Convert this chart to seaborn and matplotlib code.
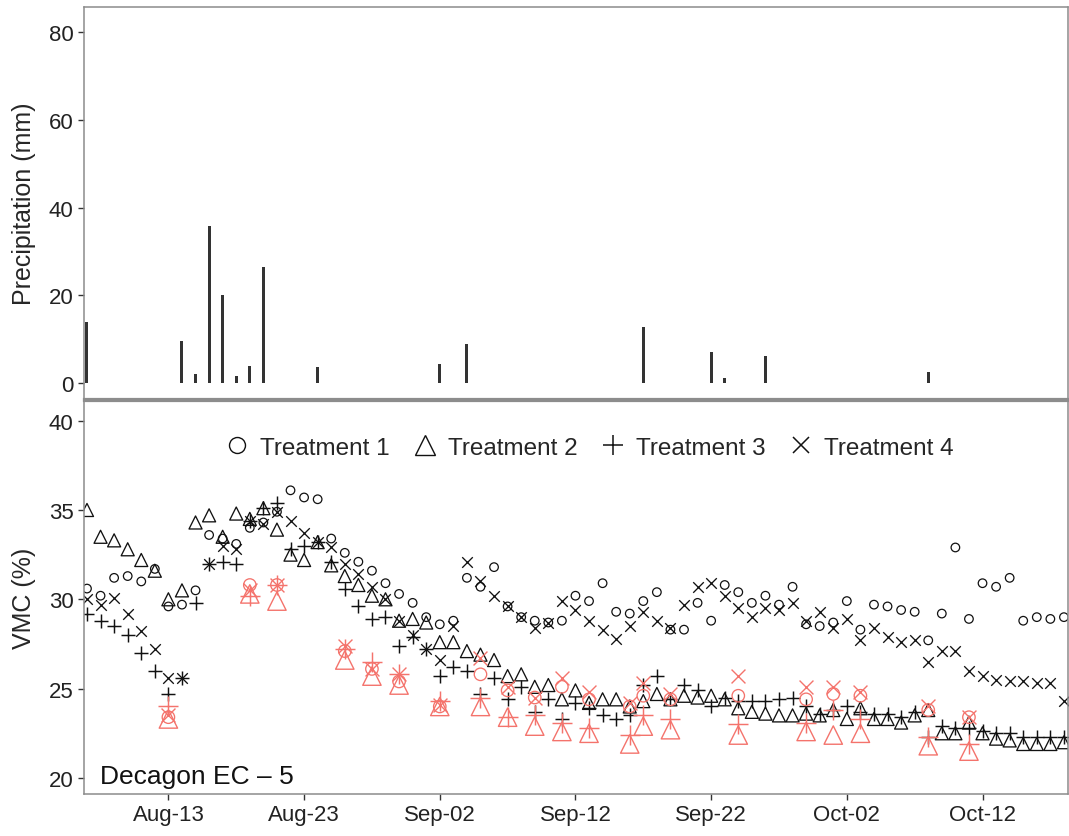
import numpy as np
import pandas as pd
import matplotlib
matplotlib.use("Agg")
import matplotlib.pyplot as plt
import matplotlib.dates as mdates
from matplotlib.lines import Line2D
import seaborn as sns

sns.set_theme(style="white")
plt.rcParams['font.family'] = ['Liberation Sans', 'DejaVu Sans']

# ---------------- data ----------------
start_date = "2016-08-07"
n_days = 73

# daily VMC (%) per treatment (sensor), Aug-07 .. Oct-18
t1 = [30.6, 30.2, 31.2, 31.3, 31.0, 31.7, 29.6, 29.7, 30.5, 33.6,
      33.4, 33.1, 34.0, 34.3, 34.9, 36.1, 35.7, 35.6, 33.4, 32.6,
      32.1, 31.6, 30.9, 30.3, 29.8, 29.0, 28.6, 28.8, 31.2, 30.7,
      31.8, 29.6, 29.0, 28.8, 28.7, 28.8, 30.2, 29.9, 30.9, 29.3,
      29.2, 29.9, 30.4, 28.3, 28.3, 29.8, 28.8, 30.8, 30.4, 29.8,
      30.2, 29.7, 30.7, 28.6, 28.5, 28.7, 29.9, 28.3, 29.7, 29.6,
      29.4, 29.3, 27.7, 29.2, 32.9, 28.9, 30.9, 30.7, 31.2, 28.8,
      29.0, 28.9, 29.0]
t2 = [35.0, 33.5, 33.3, 32.8, 32.2, 31.6, 30.0, 30.5, 34.3, 34.7,
      33.5, 34.8, 34.5, 35.1, 33.9, 32.5, 32.2, 33.2, 31.9, 31.3,
      30.8, 30.2, 30.0, 28.8, 28.9, 28.7, 27.6, 27.6, 27.1, 26.9,
      26.6, 25.7, 25.8, 25.1, 25.2, 24.4, 24.9, 24.2, 24.4, 24.4,
      24.0, 24.3, 24.7, 24.4, 24.6, 24.5, 24.6, 24.4, 23.9, 23.7,
      23.6, 23.5, 23.5, 23.6, 23.5, 23.8, 23.3, 23.9, 23.3, 23.3,
      23.1, 23.5, 23.8, 22.5, 22.5, 23.1, 22.5, 22.2, 22.1, 21.9,
      21.9, 21.9, 22.0]
t3 = [29.2, 28.8, 28.5, 28.0, 27.0, 26.0, 24.7, 25.6, 29.8, 32.0,
      32.1, 32.0, 34.4, 35.1, 35.4, 32.8, 33.0, 33.2, 32.1, 30.6,
      29.6, 28.9, 29.0, 27.4, 27.9, 27.2, 25.7, 26.2, 26.0, 24.7,
      25.6, 24.4, 25.1, 23.7, 24.4, 23.3, 24.2, 23.9, 23.5, 23.3,
      23.5, 25.2, 25.7, 24.4, 25.2, 24.9, 24.0, 24.5, 24.3, 24.3,
      24.3, 24.4, 24.5, 24.0, 23.6, 23.8, 24.0, 23.7, 23.6, 23.6,
      23.4, 23.7, 22.3, 22.9, 22.8, 22.8, 22.6, 22.5, 22.5, 22.3,
      22.3, 22.3, 22.3]
t4 = [30.0, 29.7, 30.1, 29.2, 28.2, 27.2, 25.6, 25.6, np.nan, 32.0,
      33.0, 32.8, 34.4, 34.2, 34.9, 34.4, 33.7, 33.2, 32.9, 32.0,
      31.4, 30.7, 30.0, 28.8, 28.0, 27.2, 26.6, 28.5, 32.1, 31.0,
      30.2, 29.6, 29.0, 28.4, 28.7, 29.9, 29.4, 28.8, 28.3, 27.8,
      28.5, 29.3, 28.8, 28.4, 29.7, 30.7, 30.9, 30.2, 29.5, 29.0,
      29.5, 29.4, 29.8, 28.8, 29.3, 28.4, 28.9, 27.7, 28.4, 27.9,
      27.6, 27.7, 26.5, 27.1, 27.1, 26.0, 25.7, 25.5, 25.4, 25.4,
      25.3, 25.3, 24.3]

# highlighted (red) readings: day offsets from start and values
red_days = [6, 12, 14, 19, 21, 23, 26, 29, 31, 33, 35, 37, 40, 41, 43,
            48, 53, 55, 57, 62, 65]
red_t1 = [23.4, 30.8, 30.8, 27.1, 26.1, 25.4, 24.0, 25.8, 24.9, 24.5, 25.1,
          24.4, 24.0, 24.6, 24.4, 24.6, 24.4, 24.7, 24.6, 23.8, 23.4]
red_t2 = [23.3, 30.3, 29.9, 26.6, 25.7, 25.2, 24.0, 24.0, 23.4, 22.9, 22.6,
          22.5, 21.9, 22.9, 22.7, 22.4, 22.6, 22.4, 22.5, 21.8, 21.5]
red_t3 = [24.0, 30.2, 30.8, 27.2, 26.5, 25.8, 24.3, 24.5, 23.4, 23.5, 23.1,
          22.8, 22.4, 23.5, 23.3, 23.0, 23.1, 23.8, 23.3, 22.3, 21.9]
red_t4 = [23.5, 30.5, 30.8, 27.4, 26.1, 25.8, 24.1, 26.7, 25.1, 24.5, 25.6,
          24.8, 24.2, 25.3, 24.7, 25.7, 25.1, 25.1, 24.8, 24.0, 23.4]

# precipitation (mm)
rain_days = [0, 7, 8, 9, 10, 11, 12, 13, 17, 26, 28, 41, 46, 47, 50, 62]
rain_mm = [13.9, 9.5, 2.0, 35.7, 20.0, 1.6, 3.9, 26.4, 3.6, 4.3, 8.9,
           12.7, 7.0, 1.1, 6.2, 2.5]

treatments = ["Treatment 1", "Treatment 2", "Treatment 3", "Treatment 4"]

# ---------------- frames ----------------
dates = pd.date_range(start_date, periods=n_days, freq="D")
sensor = pd.concat([pd.DataFrame({"date": dates, "vmc": v, "trt": t})
                    for t, v in zip(treatments, [t1, t2, t3, t4])])
red_dates = pd.Timestamp(start_date) + pd.to_timedelta(red_days, unit="D")
red = pd.concat([pd.DataFrame({"date": red_dates, "vmc": v, "trt": t})
                 for t, v in zip(treatments, [red_t1, red_t2, red_t3, red_t4])])
rain_dates = pd.Timestamp(start_date) + pd.to_timedelta(rain_days, unit="D")

# ---------------- figure ----------------
W, H = 1069, 837
fig = plt.figure(figsize=(W / 100, H / 100), dpi=100)
L, R = 84 / W, 1068 / W
ax1 = fig.add_axes([L, 1 - 400 / H, R - L, (400 - 8) / H])
ax2 = fig.add_axes([L, 1 - 795 / H, R - L, (795 - 402) / H], sharex=ax1)

black = "#111111"
redc = "#F4736C"
spine_c = "#8c8c8c"

# precipitation bars
ax1.bar(rain_dates, rain_mm, width=0.22, color="#333333", linewidth=0)
ax1.set_ylim(-3.6, 85.7)
ax1.set_yticks([0, 20, 40, 60, 80])
ax1.set_ylabel("Precipitation (mm)", fontsize=18, labelpad=9)

style_black = {
    "Treatment 1": dict(marker="o", s=38, facecolor="none", linewidth=0.9),
    "Treatment 2": dict(marker="^", s=88, facecolor="none", linewidth=0.95),
    "Treatment 3": dict(marker="+", s=100, linewidth=1.05),
    "Treatment 4": dict(marker="x", s=58, linewidth=0.95),
}
style_red = {
    "Treatment 1": dict(marker="o", s=80, facecolor="none", linewidth=0.95),
    "Treatment 2": dict(marker="^", s=175, facecolor="none", linewidth=1.0),
    "Treatment 3": dict(marker="+", s=190, linewidth=1.05),
    "Treatment 4": dict(marker="x", s=100, linewidth=1.0),
}

for df, col, stl, z in [(sensor, black, style_black, 2), (red, redc, style_red, 3)]:
    for t in treatments:
        sub = df[df["trt"] == t]
        kw = dict(stl[t])
        sns.scatterplot(data=sub, x="date", y="vmc", ax=ax2, color=col,
                        edgecolor=col, legend=False, zorder=z, **kw)

ax2.set_ylim(19.1, 41.1)
ax2.set_yticks([20, 25, 30, 35, 40])
ax2.set_ylabel("VMC (%)", fontsize=18, labelpad=9)
ax2.set_xlabel("")

x0 = pd.Timestamp(start_date)
ax2.set_xlim(x0 - pd.Timedelta(days=0.22), x0 + pd.Timedelta(days=72.3))
ticks = pd.date_range("2016-08-13", periods=7, freq="10D")
ax2.set_xticks(ticks)
ax2.xaxis.set_major_formatter(mdates.DateFormatter("%b-%d"))

for ax in (ax1, ax2):
    for sp in ax.spines.values():
        sp.set_color(spine_c)
        sp.set_linewidth(1.1)
    ax.tick_params(axis="both", which="major", direction="out", length=4,
                   width=1.0, color="#333333", labelsize=16, labelcolor="#222222",
                   bottom=True, left=True)
plt.setp(ax1.get_xticklabels(), visible=False)
ax1.spines["bottom"].set_linewidth(1.6)
ax2.spines["top"].set_linewidth(1.6)

handles = [
    Line2D([], [], linestyle="none", marker="o", markersize=11.5, markerfacecolor="none",
           markeredgecolor=black, markeredgewidth=1.0),
    Line2D([], [], linestyle="none", marker="^", markersize=15, markerfacecolor="none",
           markeredgecolor=black, markeredgewidth=1.0),
    Line2D([], [], linestyle="none", marker="+", markersize=15, color=black,
           markeredgewidth=1.1),
    Line2D([], [], linestyle="none", marker="x", markersize=12, color=black,
           markeredgewidth=1.1),
]
ax2.legend(handles, treatments, loc="upper center", bbox_to_anchor=(0.512, 0.965),
           ncol=4, frameon=False, fontsize=17.5, handletextpad=0.35,
           columnspacing=0.85, handlelength=1.2)

ax2.text(0.016, 0.016, "Decagon EC \u2013 5", transform=ax2.transAxes,
         fontsize=19, ha="left", va="bottom", color="#111111")

fig.savefig("out.png", dpi=100)
